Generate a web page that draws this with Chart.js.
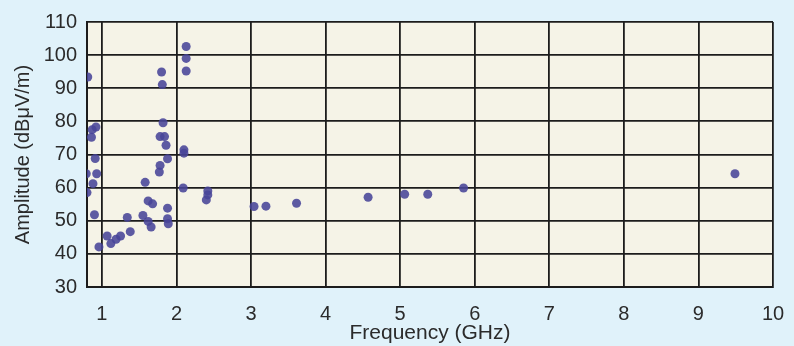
<!DOCTYPE html>
<html>
<head>
<meta charset="utf-8">
<script src="https://cdn.jsdelivr.net/npm/chart.js@4/dist/chart.umd.min.js"></script>
<style>
  html, body { margin: 0; padding: 0; background: #e0f2fa; }
  #wrap { width: 794px; height: 346px; }
</style>
</head>
<body>
<div id="wrap"><canvas id="c" width="794" height="346"></canvas></div>
<script>
const freqGHz = [0.81, 0.87, 0.92, 0.86, 0.91, 0.79, 0.93, 0.88, 0.80, 0.90,
                 0.96, 1.07, 1.12, 1.19, 1.25, 1.34, 1.38, 1.55, 1.62, 1.66,
                 1.58, 1.62, 1.68, 1.77, 1.78, 1.80, 1.81, 1.82, 1.78, 1.84,
                 1.86, 1.88, 1.88, 1.88, 1.89, 2.10, 2.10, 2.09, 2.13, 2.13,
                 2.13, 2.42, 2.42, 2.40, 3.04, 3.20, 3.61, 4.57, 5.06, 5.37,
                 5.85, 9.49];
const amplitude = [93.4, 77.5, 78.3, 75.2, 68.8, 64.2, 64.2, 61.2, 58.5, 51.8,
                   42.1, 45.4, 43.1, 44.4, 45.4, 51.0, 46.7, 51.6, 49.8, 48.1,
                   61.6, 56.0, 55.1, 64.7, 66.7, 94.9, 91.1, 79.6, 75.4, 75.4,
                   72.8, 68.7, 53.8, 50.6, 49.1, 71.4, 70.4, 59.9, 102.6, 99.0,
                   95.2, 59.0, 57.8, 56.3, 54.3, 54.4, 55.3, 57.1, 58.0, 58.0,
                   59.9, 64.2];
const xTicks = [1, 2, 3, 4, 5, 6, 7, 8, 9, 10];

const points = freqGHz.map((f, i) => ({ x: f, y: amplitude[i] }));

const fontFamily = '"Liberation Sans", Arial, Helvetica, sans-serif';
const textColor = '#2b2b2b';
const gridColor = '#1c1c1c';

// paint the blue page and the beige plotting field
const backdrop = {
    id: 'backdrop',
    beforeDraw(chart) {
        const c = chart.ctx;
        const a = chart.chartArea;
        c.save();
        c.fillStyle = '#e0f2fa';
        c.fillRect(0, 0, chart.width, chart.height);
        c.fillStyle = '#f5f3e7';
        c.fillRect(a.left, a.top, a.right - a.left, a.bottom - a.top);
        c.restore();
    }
};

new Chart(document.getElementById('c'), {
    type: 'scatter',
    data: {
        datasets: [{
            data: points,
            backgroundColor: 'rgba(72, 68, 152, 0.88)',
            borderWidth: 0,
            pointRadius: 4.5,
            pointHoverRadius: 4.5
        }]
    },
    plugins: [backdrop],
    options: {
        responsive: false,
        animation: false,
        layout: { padding: { left: 0, right: 21, top: 17, bottom: 0 } },
        plugins: {
            legend: { display: false },
            tooltip: { enabled: false }
        },
        scales: {
            x: {
                type: 'linear',
                min: 0.8,
                max: 10,
                afterBuildTicks: axis => { axis.ticks = xTicks.map(v => ({ value: v })); },
                afterFit: axis => {
                    axis.height = 59;
                    axis.paddingLeft = 0;
                    axis.paddingRight = 0;
                },
                grid: { color: gridColor, lineWidth: 1.8, drawTicks: false },
                border: { color: gridColor, width: 2 },
                ticks: {
                    color: textColor,
                    padding: 15,
                    maxRotation: 0,
                    font: { family: fontFamily, size: 20 }
                },
                title: {
                    display: true,
                    text: 'Frequency (GHz)',
                    color: textColor,
                    padding: { top: 0, bottom: 0 },
                    font: { family: fontFamily, size: 21 }
                }
            },
            y: {
                min: 30,
                max: 110,
                afterFit: axis => { axis.width = 87; },
                grid: { color: gridColor, lineWidth: 1.8, drawTicks: false },
                border: { color: gridColor, width: 2 },
                ticks: {
                    stepSize: 10,
                    color: textColor,
                    padding: 10,
                    font: { family: fontFamily, size: 20 }
                },
                title: {
                    display: true,
                    text: 'Amplitude (dB\u03bcV/m)',
                    color: textColor,
                    padding: { top: 11, bottom: 0 },
                    font: { family: fontFamily, size: 20 }
                }
            }
        }
    }
});
</script>
</body>
</html>
